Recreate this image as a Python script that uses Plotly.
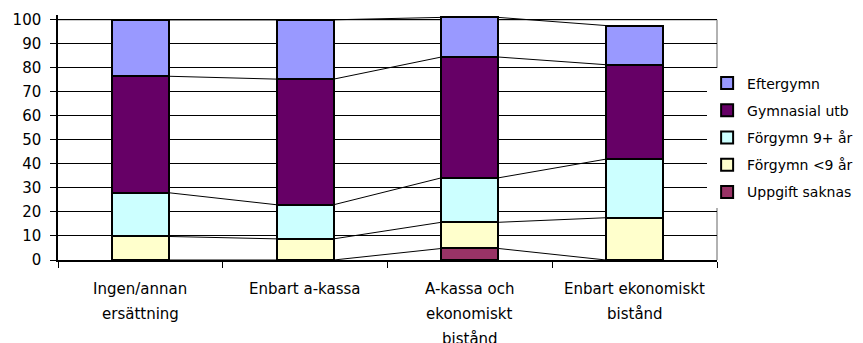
import plotly.graph_objects as go

# Categories (each label line separated by "\n")
categories = [
    "Ingen/annan\nersättning",
    "Enbart a-kassa",
    "A-kassa och\nekonomiskt\nbistånd",
    "Enbart ekonomiskt\nbistånd",
]

# Stacked series, bottom to top (percent)
uppgift_saknas = [0.0, 0.0, 4.8, 0.0]
forgymn_under9 = [9.8, 8.8, 10.9, 17.6]
forgymn_9plus = [18.2, 14.2, 18.5, 24.4]
gymnasial_utb = [48.5, 52.3, 50.3, 39.3]
eftergymn = [23.5, 24.7, 16.5, 16.3]

series_names = ["Uppgift saknas", "Förgymn <9 år", "Förgymn 9+ år", "Gymnasial utb", "Eftergymn"]
series_values = [uppgift_saknas, forgymn_under9, forgymn_9plus, gymnasial_utb, eftergymn]
series_colors = ["#993366", "#FFFFCC", "#CCFFFF", "#660066", "#9999FF"]

y_ticks = [0, 10, 20, 30, 40, 50, 60, 70, 80, 90, 100]

FONT = "DejaVu Sans"
BAR_WIDTH = 0.346

x_keys = [c.replace("\n", " ") for c in categories]

fig = go.Figure()

n_series = len(series_names)
for k, (name, vals, color) in enumerate(zip(series_names, series_values, series_colors)):
    fig.add_trace(go.Bar(
        x=x_keys, y=vals, name=name, legendgroup=name,
        legendrank=n_series - k,  # top segment listed first
        marker=dict(color=color, line=dict(color="#000000", width=2)),
        width=BAR_WIDTH,
        cliponaxis=False,
    ))

# Series lines joining the top of each segment between neighbouring bars
cum = [0.0] * len(categories)
for vals in series_values:
    cum = [c + v for c, v in zip(cum, vals)]
    for i in range(len(categories) - 1):
        fig.add_trace(go.Scatter(
            x=[i + BAR_WIDTH / 2, i + 1 - BAR_WIDTH / 2],
            y=[cum[i], cum[i + 1]],
            xaxis="x2", mode="lines",
            line=dict(color="#000000", width=1),
            showlegend=False, hoverinfo="skip", cliponaxis=False,
        ))

# Category labels drawn line by line below the axis
for i, label in enumerate(categories):
    for j, line in enumerate(label.split("\n")):
        fig.add_annotation(
            x=x_keys[i], y=0, xref="x", yref="y",
            text=line, showarrow=False,
            yanchor="middle", yshift=-29 - 25 * j,
            font=dict(family=FONT, size=15, color="#000000"),
        )

# Plot frame (gray top and right edges)
fig.add_shape(type="line", xref="paper", yref="y", x0=0, x1=1, y0=100, y1=100,
              line=dict(color="#999999", width=1.5), layer="below")
fig.add_shape(type="line", xref="paper", yref="y", x0=1, x1=1, y0=0, y1=100,
              line=dict(color="#999999", width=1.5), layer="below")

fig.update_layout(
    width=863, height=343,
    margin=dict(l=58, r=146, t=15, b=83, autoexpand=False),
    paper_bgcolor="#FFFFFF", plot_bgcolor="#FFFFFF",
    barmode="stack",
    font=dict(family=FONT, size=15, color="#000000"),
    showlegend=True,
    legend=dict(
        x=0.985, xanchor="left", y=0.5, yanchor="middle",
        traceorder="grouped",
        bgcolor="#FFFFFF",
        font=dict(family=FONT, size=14, color="#000000"),
        itemwidth=30,
        tracegroupgap=6,
    ),
    xaxis=dict(
        type="category",
        showticklabels=False,
        tickson="boundaries", ticks="outside", ticklen=6, tickcolor="#000000",
        showline=True, linecolor="#000000", linewidth=1.5,
        showgrid=False, zeroline=False,
        range=[-0.5, 3.5],
    ),
    xaxis2=dict(overlaying="x", range=[-0.5, 3.5], visible=False),
    yaxis=dict(
        range=[0, 102],
        tickvals=y_ticks,
        ticks="outside", ticklen=6, tickcolor="#000000",
        ticklabelstandoff=6,
        showline=True, linecolor="#000000", linewidth=1.5,
        showgrid=True, gridcolor="#000000", gridwidth=1,
        zeroline=False,
        tickfont=dict(family=FONT, size=15, color="#000000"),
    ),
    bargap=0,
)

fig.write_html("out.html")
